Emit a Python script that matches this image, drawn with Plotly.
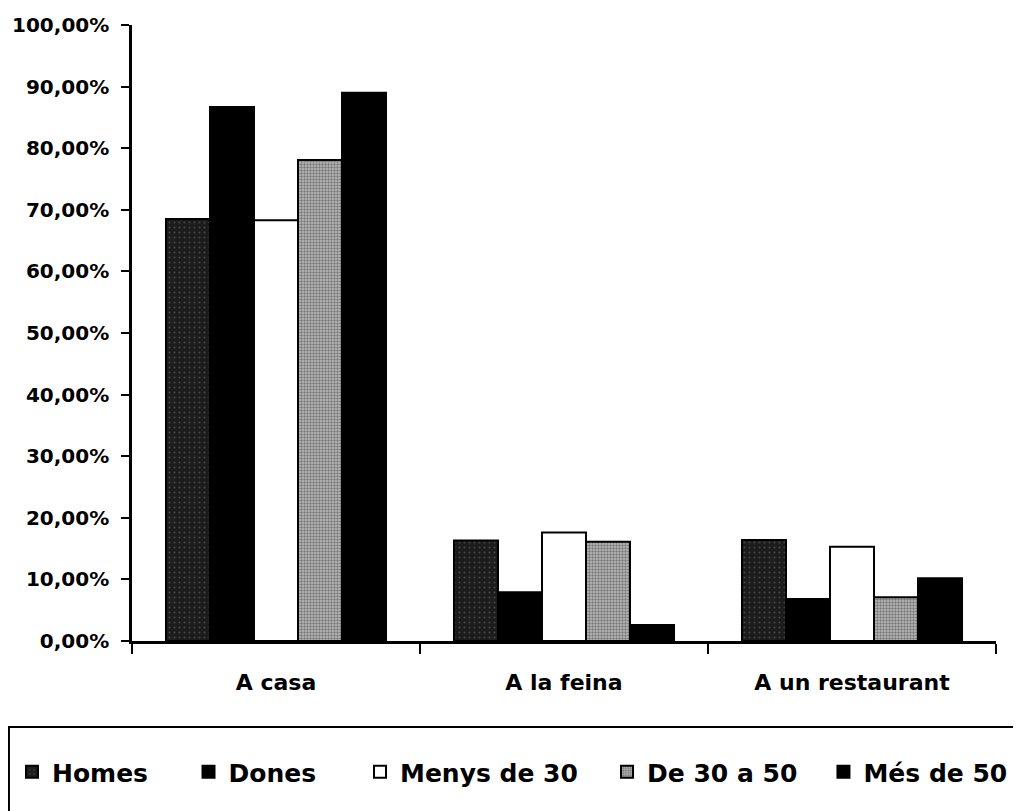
import plotly.graph_objects as go

categories = ["A casa", "A la feina", "A un restaurant"]

homes = [0.685, 0.163, 0.164]
dones = [0.867, 0.079, 0.068]
menys_30 = [0.683, 0.176, 0.153]
de_30_50 = [0.781, 0.161, 0.071]
mes_50 = [0.890, 0.026, 0.102]

series = [
    ("Homes", homes, "#1c1c1c", dict(shape=".", fgcolor="#6a6a6a", bgcolor="#1c1c1c", size=5, solidity=0.15)),
    ("Dones", dones, "#000000", None),
    ("Menys de 30", menys_30, "#ffffff", None),
    ("De 30 a 50", de_30_50, "#a8a8a8", dict(shape=".", fgcolor="#333333", bgcolor="#bdbdbd", size=3, solidity=0.5)),
    ("Més de 50", mes_50, "#000000", None),
]

# one small legend per series so the entries sit where they do in the original
legend_x = [-0.1389, 0.0654, 0.2639, 0.5498, 0.8003]
legend_names = ["legend", "legend2", "legend3", "legend4", "legend5"]

font_family = "DejaVu Sans"

fig = go.Figure()
for (name, vals, color, pattern), lg in zip(series, legend_names):
    marker = dict(color=color, line=dict(color="black", width=2))
    if pattern:
        marker["pattern"] = pattern
    fig.add_trace(go.Bar(
        name=name,
        x=categories,
        y=vals,
        marker=marker,
        legend=lg,
    ))

legend_style = dict(
    orientation="h",
    xanchor="left",
    y=-0.2127,
    yanchor="middle",
    font=dict(family=font_family, size=25, weight="bold"),
    bgcolor="rgba(0,0,0,0)",
)

# page body adds 8px, so left/top margins are 8px smaller
fig.update_layout(
    width=1021,
    height=811,
    margin=dict(l=124, r=33, t=17, b=178, autoexpand=False),
    paper_bgcolor="white",
    plot_bgcolor="white",
    separators=",.",
    barmode="group",
    bargap=0.236,
    bargroupgap=0,
    font=dict(family=font_family, color="black"),
    showlegend=True,
    shapes=[
        dict(
            type="rect",
            xref="paper", yref="paper",
            x0=-0.1424, x1=1.05, y0=-0.45, y1=-0.1396,
            line=dict(color="black", width=2),
        )
    ],
)
for lg, lx in zip(legend_names, legend_x):
    fig.update_layout({lg: dict(legend_style, x=lx)})

fig.update_yaxes(
    range=[0, 1],
    tickvals=[i / 10 for i in range(11)],
    tickformat=".2%",
    automargin=False,
    showgrid=False,
    zeroline=False,
    showline=True,
    linecolor="black",
    linewidth=2.5,
    ticks="outside",
    ticklen=8,
    tickwidth=2,
    tickcolor="black",
    ticklabelstandoff=8,
    tickfont=dict(family=font_family, size=20, weight="bold"),
)

fig.update_xaxes(
    automargin=False,
    showgrid=False,
    showline=True,
    linecolor="black",
    linewidth=2.5,
    ticks="outside",
    tickson="boundaries",
    ticklen=10,
    tickwidth=2,
    tickcolor="black",
    ticklabelstandoff=20,
    tickfont=dict(family=font_family, size=22, weight="bold"),
)

fig.write_html("out.html")
